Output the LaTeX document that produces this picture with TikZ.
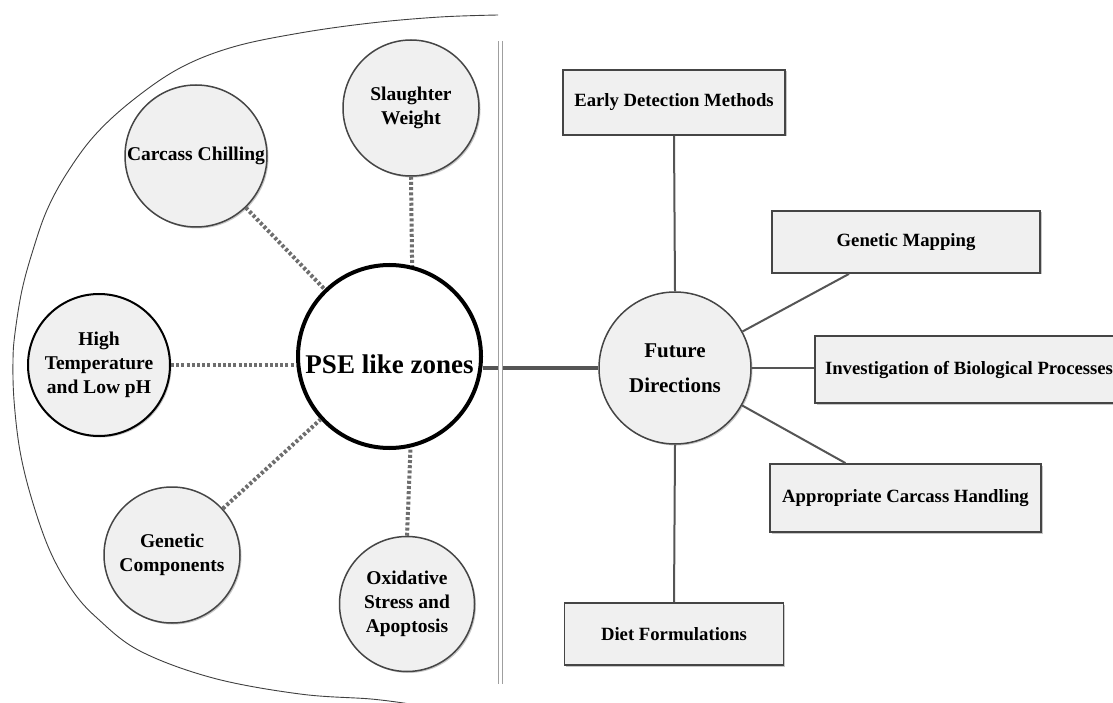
\documentclass[tikz,border=0pt]{standalone}
\usepackage{fontspec}
\setmainfont{Liberation Serif}
\usetikzlibrary{shadows,calc}
\definecolor{nodefill}{HTML}{F0F0F0}
\definecolor{edgec}{HTML}{454545}
\definecolor{dotc}{HTML}{6E6E6E}
\definecolor{linec}{HTML}{555555}
\begin{document}
\begin{tikzpicture}[x=1pt,y=-1pt,
  shadowed/.style={drop shadow={shadow xshift=1.5pt,shadow yshift=-1.5pt,opacity=0.22,fill=black}},
  factor/.style={circle,draw=edgec,line width=1.5pt,fill=nodefill,inner sep=0pt,align=center,
    font=\bfseries\fontsize{19.5}{24}\selectfont,shadowed},
  dirbox/.style={rectangle,draw=edgec,line width=1.8pt,fill=nodefill,inner sep=0pt,align=center,
    font=\bfseries\fontsize{18.7}{22}\selectfont,shadowed},
  dotlink/.style={draw=dotc,line width=4pt,dash pattern=on 3pt off 2.2pt},
  link/.style={draw=linec,line width=2pt}]
\useasboundingbox (0,0) rectangle (1113,703);
\clip (0,0) rectangle (1113,703);
\fill[white] (0,0) rectangle (1113,703);

% outer arc
\draw[line width=0.9pt,draw=black!75] plot[smooth,tension=0.6] coordinates {
  (498,15) (440,17) (371,23) (300,33) (233,47) (180,68) (133,100) (95,135) (67,173)
  (47,210) (33,250) (22,290) (15,333) (13,360) (14,400) (20,451) (32,500) (50,551)
  (72,590) (97,618) (140,651) (213,678) (300,694) (371,699) (410,704)};

% left side factors
\node[factor,minimum size=142pt] (cc) at (196,156) {Carcass Chilling};
\node[factor,minimum size=136pt] (sw) at (411,108) {Slaughter\\Weight};
\node[factor,minimum size=142pt,draw=black,line width=2pt] (ht) at (99,365) {High\\Temperature\\and Low pH};
\node[factor,minimum size=136pt] (gc) at (172,555) {Genetic\\Components};
\node[factor,minimum size=135pt] (ox) at (407,604) {Oxidative\\Stress and\\Apoptosis};
\node[circle,draw=black,line width=4pt,fill=white,minimum size=183pt,inner sep=0pt] (pse) at (389.5,356.5) {};
\node[font=\bfseries\fontsize{27}{30}\selectfont] (psetext) at (389.5,364) {PSE like zones};

% right side
\node[factor,minimum size=152pt,font=\bfseries\fontsize{21}{35}\selectfont] (fd) at (675,368) {Future\\Directions};
\node[dirbox,minimum width=222pt,minimum height=65pt] (edm) at (674,102.5) {Early Detection Methods};
\node[dirbox,minimum width=268pt,minimum height=62pt] (gm) at (906,242) {Genetic Mapping};
\node[dirbox,minimum width=308pt,minimum height=67pt] (inv) at (969,369.5) {Investigation of Biological Processes};
\node[dirbox,minimum width=271pt,minimum height=68pt] (ach) at (905.5,498) {Appropriate Carcass Handling};
\node[dirbox,minimum width=219pt,minimum height=62pt] (diet) at (674,634) {Diet Formulations};

% dotted connectors
\draw[dotlink] (cc) -- (pse);
\draw[dotlink] (sw.south) -- (pse.76);
\draw[dotlink] (ht.east) -- (ht.east -| pse.west);
\draw[dotlink] (gc) -- (pse);
\draw[dotlink] (ox.north) -- (pse.-77);

% solid connectors
\draw[link] (edm.south) -- (fd.north);
\draw[link] (fd) -- ([xshift=-57pt]gm.south);
\draw[link] (fd.east) -- (fd.east -| inv.west);
\draw[link] (fd) -- ([xshift=-60pt]ach.north);
\draw[link] (fd.south) -- (diet.north);
\draw[draw=linec,line width=4.5pt] (pse.east |- fd.west) -- (fd.west);

% divider bar
\draw[draw=gray!75,line width=1.2pt,double=white,double distance=2.6pt] (500.5,41) -- (500.5,684);
\end{tikzpicture}
\end{document}
